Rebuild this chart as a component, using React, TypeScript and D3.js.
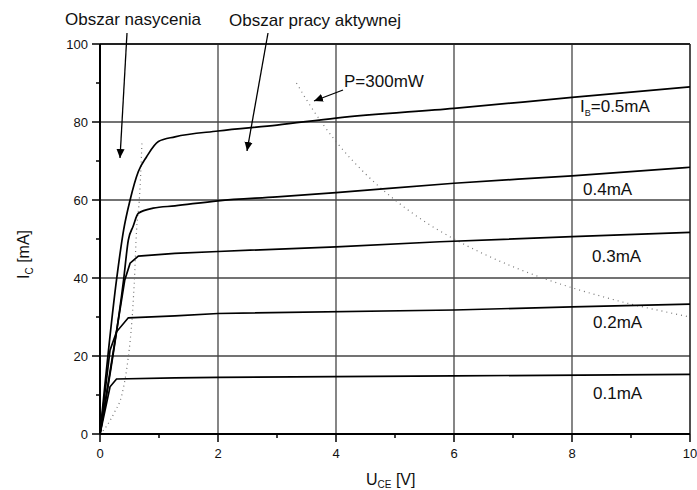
import React from "react";
import { scaleLinear, line, curveMonotoneX, curveLinear } from "d3";

// output characteristics, I_C [mA] vs U_CE [V]
const uce05 = [0, 0.28, 0.4, 0.51, 0.65, 0.79, 0.99, 1.27, 2, 3, 4, 6, 8, 10];
const ic05 = [0, 39.5, 52.3, 60, 67.3, 71.1, 75, 76.2, 77.7, 79.2, 81, 83.5, 86.3, 89];
const uce04 = [0, 0.4, 0.48, 0.56, 0.65, 0.9, 1.27, 2, 3, 4, 6, 8, 10];
const ic04 = [0, 39.5, 49.7, 53.2, 56.6, 57.9, 58.5, 59.8, 60.8, 61.9, 64.3, 66.2, 68.4];
const uce03 = [0, 0.42, 0.51, 0.65, 1.27, 2, 4, 5.76, 8, 10];
const ic03 = [0, 39.5, 43.8, 45.6, 46.3, 46.8, 48, 49.3, 50.6, 51.7];
const uce02 = [0, 0.17, 0.28, 0.48, 1.27, 2, 6, 8, 10];
const ic02 = [0, 21.5, 26.2, 29.8, 30.3, 30.9, 31.8, 32.6, 33.3];
const uce01 = [0, 0.17, 0.28, 1.27, 2, 6, 10];
const ic01 = [0, 12.1, 14.1, 14.4, 14.5, 14.9, 15.3];

// saturation boundary (dotted)
const uceSat = [0.05, 0.11, 0.25, 0.37, 0.45, 0.51, 0.54, 0.58, 0.62, 0.67, 0.69, 0.71];
const icSat = [0.8, 2, 5.7, 10, 16.4, 23.7, 28.8, 38.6, 52.3, 60.9, 66.8, 74.5];

// P = 300mW hyperbola (dotted)
const ucePow = [3.33, 3.5, 4, 4.5, 5, 5.5, 6, 6.5, 7, 7.5, 8, 8.5, 9, 9.5, 10];
const icPow = [90, 85.7, 75, 66.7, 60, 54.5, 50, 46.2, 42.9, 40, 37.5, 35.3, 33.3, 31.6, 30];

const xTicks = [0, 2, 4, 6, 8, 10];
const xMinor = [1, 3, 5, 7, 9];
const yTicks = [0, 20, 40, 60, 80, 100];
const yMinor = [10, 30, 50, 70, 90];

const font = "'Liberation Sans', Arial, sans-serif";

const curves = [
  { u: uce05, i: ic05, smooth: true },
  { u: uce04, i: ic04, smooth: true },
  { u: uce03, i: ic03, smooth: false },
  { u: uce02, i: ic02, smooth: false },
  { u: uce01, i: ic01, smooth: false },
];

export default function App() {
  const W = 697;
  const H = 490;
  const x = scaleLinear().domain([0, 10]).range([100, 690]);
  const y = scaleLinear().domain([0, 100]).range([434, 44]);

  const mk = (u: number[], i: number[], smooth = true) =>
    line<number>()
      .x((_, k) => x(u[k]))
      .y((_, k) => y(i[k]))
      .curve(smooth ? curveMonotoneX : curveLinear)(u) || "";

  return (
    <svg
      width={W}
      height={H}
      style={{ position: "absolute", left: 0, top: 0, background: "#fff" }}
      fontFamily={font}
    >
      <defs>
        <marker
          id="ah"
          viewBox="0 0 10 10"
          refX="10"
          refY="5"
          markerWidth="9"
          markerHeight="9"
          markerUnits="userSpaceOnUse"
          orient="auto"
        >
          <path d="M0,0.5 L10,5 L0,9.5 Z" fill="#000" />
        </marker>
      </defs>

      {/* grid */}
      {xTicks.slice(1, -1).map((t) => (
        <line key={"gx" + t} x1={x(t)} x2={x(t)} y1={y(0)} y2={y(100)} stroke="#444" strokeWidth={1.3} />
      ))}
      {yTicks.slice(1, -1).map((t) => (
        <line key={"gy" + t} x1={x(0)} x2={x(10)} y1={y(t)} y2={y(t)} stroke="#444" strokeWidth={1.3} />
      ))}

      {/* frame */}
      <line x1={x(0)} x2={x(10)} y1={y(100)} y2={y(100)} stroke="#222" strokeWidth={2} />
      <line x1={x(10)} x2={x(10)} y1={y(0)} y2={y(100)} stroke="#222" strokeWidth={1.6} />
      <line x1={x(0)} x2={x(10)} y1={y(0)} y2={y(0)} stroke="#000" strokeWidth={2} />
      <line x1={x(0)} x2={x(0)} y1={y(0)} y2={y(100)} stroke="#000" strokeWidth={2} />

      {/* ticks */}
      {xTicks.map((t) => (
        <g key={"xt" + t}>
          <line x1={x(t)} x2={x(t)} y1={y(0)} y2={y(0) + 8} stroke="#000" strokeWidth={1.5} />
          <text x={x(t)} y={458} fontSize={13} textAnchor="middle" fill="#111">
            {t}
          </text>
        </g>
      ))}
      {xMinor.map((t) => (
        <line key={"xm" + t} x1={x(t)} x2={x(t)} y1={y(0)} y2={y(0) + 4} stroke="#000" strokeWidth={1.5} />
      ))}
      {yTicks.map((t) => (
        <g key={"yt" + t}>
          <line x1={x(0) - 8} x2={x(0)} y1={y(t)} y2={y(t)} stroke="#000" strokeWidth={1.5} />
          <text x={88} y={y(t) + 4.5} fontSize={13} textAnchor="end" fill="#111">
            {t}
          </text>
        </g>
      ))}
      {yMinor.map((t) => (
        <line key={"ym" + t} x1={x(0) - 4} x2={x(0)} y1={y(t)} y2={y(t)} stroke="#000" strokeWidth={1.5} />
      ))}

      {/* dotted boundaries */}
      <path d={mk(uceSat, icSat)} fill="none" stroke="#777" strokeWidth={1.2} strokeDasharray="1 3.5" />
      <path d={mk(ucePow, icPow)} fill="none" stroke="#777" strokeWidth={1.2} strokeDasharray="1 4" />

      {/* characteristic curves */}
      {curves.map((c, k) => (
        <path key={"c" + k} d={mk(c.u, c.i, c.smooth)} fill="none" stroke="#000" strokeWidth={1.7} />
      ))}

      {/* curve labels */}
      <text x={580} y={112} fontSize={17} fill="#111">
        I<tspan fontSize={9} dy={4}>B</tspan>
        <tspan dy={-4}>=0.5mA</tspan>
      </text>
      <text x={583} y={195} fontSize={17} fill="#111">0.4mA</text>
      <text x={592} y={262} fontSize={17} fill="#111">0.3mA</text>
      <text x={593} y={328} fontSize={17} fill="#111">0.2mA</text>
      <text x={593} y={399} fontSize={17} fill="#111">0.1mA</text>

      {/* annotations */}
      <text x={65} y={25} fontSize={17} fill="#111">Obszar nasycenia</text>
      <text x={229} y={26} fontSize={17} fill="#111">Obszar pracy aktywnej</text>
      <text x={344} y={87} fontSize={17} fill="#111">P=300mW</text>
      <line x1={127} y1={33} x2={120} y2={158} stroke="#000" strokeWidth={1.3} markerEnd="url(#ah)" />
      <line x1={268} y1={33} x2={247} y2={151} stroke="#000" strokeWidth={1.3} markerEnd="url(#ah)" />
      <line x1={343} y1={90} x2={314} y2={101} stroke="#000" strokeWidth={1.3} markerEnd="url(#ah)" />

      {/* axis titles */}
      <text x={366} y={485} fontSize={16} fill="#111">
        U<tspan fontSize={10} dy={3}>CE</tspan>
        <tspan dy={-3}> [V]</tspan>
      </text>
      <text transform="translate(29,279) rotate(-90)" fontSize={16} fill="#111">
        I<tspan fontSize={10} dy={4}>C</tspan>
        <tspan dy={-4}> [mA]</tspan>
      </text>
    </svg>
  );
}
